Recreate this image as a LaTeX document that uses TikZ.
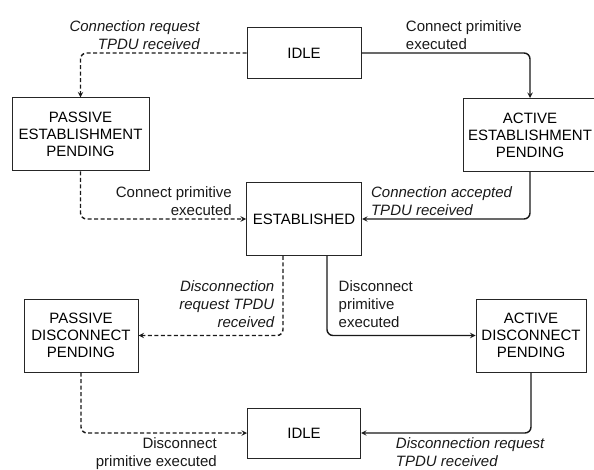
\documentclass[tikz,border=0pt]{standalone}
\usepackage{fontspec}
\setmainfont{Liberation Sans}
\usepackage{tikz}
\usetikzlibrary{arrows,positioning}
\tikzstyle{state} = [rectangle, draw=black!85, line width=1pt, text centered, align=center, minimum width=114pt, minimum height=73pt, font=\fontsize{15}{17}\selectfont]
\tikzstyle{arrow} = [line width=1.4pt, ->, >=stealth, rounded corners=6pt, color=black!90]
\tikzstyle{dasharrow} = [arrow, dash pattern=on 4pt off 2.5pt]
\tikzstyle{lbl} = [inner sep=3pt, font=\fontsize{15}{18}\selectfont]
\tikzstyle{lbli} = [inner sep=3pt, font=\fontsize{15}{18}\selectfont\itshape]

\begin{document}
\begin{tikzpicture}[x=1pt, y=-1pt, on grid]
\useasboundingbox (0,0) rectangle (594,470);
% States
\node (est) [state, minimum width=115pt] at (304,219) {ESTABLISHED};
\node (idle) [state, above=166pt of est, minimum height=51pt] {IDLE};
\node (pest) [state, above left=84.5pt and 223.5pt of est, minimum width=137pt] {PASSIVE\\ESTABLISHMENT\\PENDING};
\node (aest) [state, above right=84pt and 226pt of est, minimum width=134pt] {ACTIVE\\ESTABLISHMENT\\PENDING};
\node (pdis) [state, below left=116.5pt and 223pt of est] {PASSIVE\\DISCONNECT\\PENDING};
\node (adis) [state, below right=116.5pt and 227pt of est, minimum width=110pt] {ACTIVE\\DISCONNECT\\PENDING};
\node (idle2) [state, below=214pt of est, minimum width=113pt, minimum height=50pt] {IDLE};

% Connection setup
\draw[dasharrow] (idle.west) -| node (lcreq) [lbli, pos=0.13, anchor=south east, align=right] {Connection request\\TPDU received} (pest.north);
\draw[arrow] (idle.east) -| node (lcprim) [lbl, pos=0.121, anchor=south west, align=left] {Connect primitive\\executed} (aest.north);
\draw[dasharrow] (pest.south) |- node (lcprim2) [lbl, pos=0.968, anchor=south east, align=right] {Connect primitive\\executed} (est.west);
\draw[arrow] (aest.south) |- node (lcacc) [lbli, pos=0.984, anchor=south west, align=left] {Connection accepted\\TPDU received} (est.east);

% Release
\draw[dasharrow] ([xshift=-21pt]est.south) |- node (ldreq) [lbli, pos=0.5, anchor=south east, xshift=-5pt, yshift=4pt, align=right] {Disconnection\\request TPDU\\received} (pdis.east);
\draw[arrow] ([xshift=23pt]est.south) |- node (ldprim) [lbl, pos=0.5, anchor=south west, xshift=8pt, yshift=4pt, align=left] {Disconnect\\primitive\\executed} (adis.west);
\draw[dasharrow] (pdis.south) |- node (ldprim2) [lbl, pos=0.92, anchor=north east, yshift=-1pt, align=right] {Disconnect\\primitive executed} (idle2.west);
\draw[arrow] (adis.south) |- node (ldreq2) [lbli, pos=0.908, anchor=north west, yshift=-1pt, align=left] {Disconnection request\\TPDU received} (idle2.east);
\end{tikzpicture}
\end{document}
